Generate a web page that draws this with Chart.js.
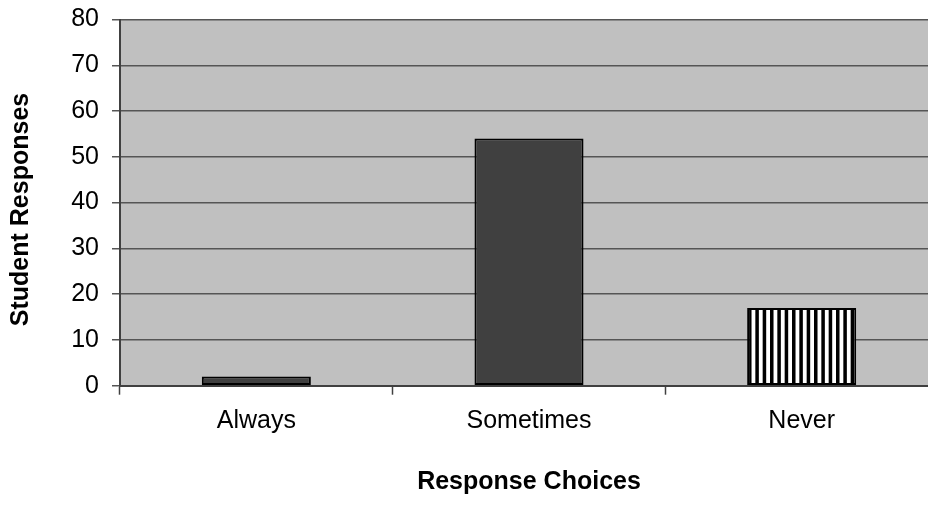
<!DOCTYPE html>
<html>
<head>
<meta charset="utf-8">
<script src="https://cdn.jsdelivr.net/npm/chart.js@4/dist/chart.umd.min.js"></script>
<style>
  html, body { margin: 0; padding: 0; background: #fff; overflow: hidden; }
  #wrap { width: 938px; height: 505px; }
</style>
</head>
<body>
<div id="wrap"><canvas id="chart" width="938" height="505"></canvas></div>
<script>
// Survey results: how often students chose each response
const categories = ['Always', 'Sometimes', 'Never'];
const responses = [2, 54, 17];
const yMin = 0;
const yMax = 80;
const yStep = 10;
const xTitle = 'Response Choices';
const yTitle = 'Student Responses';

const FONT = '"Liberation Sans", Arial, sans-serif';

// Vertical black/white stripe fill for the "Never" bar
function makeStripes() {
  const c = document.createElement('canvas');
  c.width = 22; c.height = 22;
  const g = c.getContext('2d');
  g.fillStyle = '#ffffff';
  g.fillRect(0, 0, 22, 22);
  g.fillStyle = '#000000';
  const period = 22 / 3;
  for (let i = 0; i < 3; i++) {
    g.fillRect(i * period, 0, period * 0.48, 22);
  }
  return g.createPattern(c, 'repeat');
}
const stripes = makeStripes();

// Grey plot background
const plotBackground = {
  id: 'plotBackground',
  beforeDraw(chart) {
    const { ctx, chartArea: a } = chart;
    ctx.save();
    ctx.fillStyle = '#c0c0c0';
    ctx.fillRect(a.left, a.top, a.right - a.left, a.bottom - a.top);
    ctx.restore();
  }
};

// Rotated value-axis caption, centred on the chart's full height
const sideCaption = {
  id: 'sideCaption',
  afterDraw(chart) {
    const { ctx } = chart;
    ctx.save();
    ctx.translate(21, 209.5);
    ctx.rotate(-Math.PI / 2);
    ctx.font = 'bold 25px ' + FONT;
    ctx.fillStyle = '#000';
    ctx.textAlign = 'center';
    ctx.textBaseline = 'middle';
    ctx.fillText(yTitle, 0, 0);
    ctx.restore();
  }
};

new Chart(document.getElementById('chart'), {
  type: 'bar',
  data: {
    labels: categories,
    datasets: [{
      data: responses,
      backgroundColor: ['#404040', '#404040', stripes],
      borderColor: '#000000',
      borderWidth: 2,
      borderSkipped: false,
      barPercentage: 0.4,
      categoryPercentage: 1.0
    }]
  },
  options: {
    responsive: false,
    devicePixelRatio: 1,
    animation: false,
    layout: { padding: { top: 19.5, right: 0, left: 0, bottom: 0 } },
    plugins: {
      legend: { display: false },
      tooltip: { enabled: false }
    },
    scales: {
      x: {
        offset: true,
        grid: {
          offset: true,
          drawOnChartArea: false,
          drawTicks: true,
          tickLength: 9,
          tickWidth: 1.5,
          tickColor: '#404040'
        },
        border: { color: '#404040', width: 2 },
        ticks: {
          color: '#000',
          font: { family: FONT, size: 25 },
          padding: 11
        },
        title: {
          display: true,
          text: xTitle,
          color: '#000',
          font: { family: FONT, size: 25, weight: 'bold' },
          padding: { top: 0, bottom: 8 }
        },
        afterFit(scale) {
          scale.height = 505 - 385.7;
          scale.paddingLeft = 0;
          scale.paddingRight = 0;
        }
      },
      y: {
        min: yMin,
        max: yMax,
        ticks: {
          stepSize: yStep,
          color: '#000',
          font: { family: FONT, size: 25 },
          padding: 13
        },
        grid: {
          color: '#555555',
          lineWidth: 1.5,
          tickLength: 8,
          tickColor: '#555555'
        },
        border: { color: '#404040', width: 2 },
        afterFit(scale) {
          scale.width = 120;
          scale.paddingTop = 0;
          scale.paddingBottom = 0;
        }
      }
    }
  },
  plugins: [plotBackground, sideCaption]
});
</script>
</body>
</html>
